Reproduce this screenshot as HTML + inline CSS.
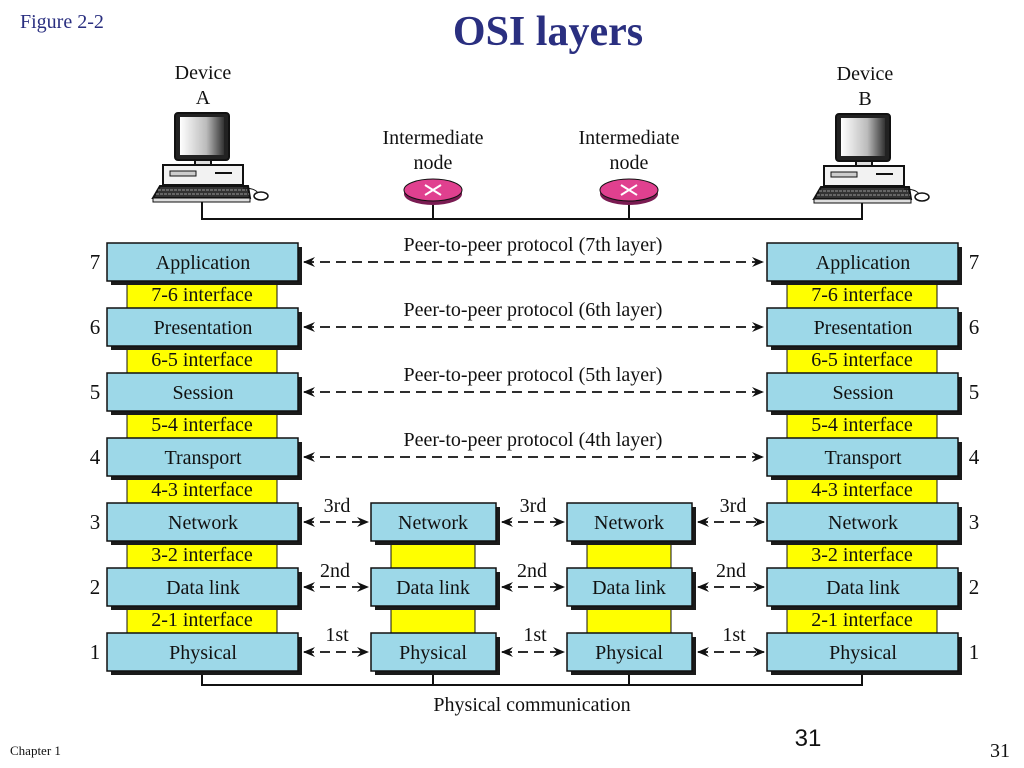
<!DOCTYPE html>
<html><head><meta charset="utf-8"><style>
html,body{margin:0;padding:0;background:#fff;}
svg{display:block;}
text{font-family:"Liberation Serif",serif;fill:#111;}
</style></head><body>
<svg width="1024" height="768" viewBox="0 0 1024 768" xmlns="http://www.w3.org/2000/svg">
<defs>
<marker id="ah" markerWidth="12" markerHeight="10" refX="11" refY="5" orient="auto-start-reverse" markerUnits="userSpaceOnUse">
<path d="M0,0 L12,5 L0,10 L4,5 Z" fill="#111"/>
</marker>
<linearGradient id="scr" x1="0" x2="1"><stop offset="0" stop-color="#fff"/><stop offset="0.6" stop-color="#bbb"/><stop offset="1" stop-color="#333"/></linearGradient>
</defs>

<text x="20" y="28" font-size="20" style="fill:#2a2f80">Figure  2-2</text>
<text x="548" y="45" font-size="42" font-weight="bold" text-anchor="middle" style="fill:#2a2f80">OSI layers</text>

<g font-size="20" text-anchor="middle">
<text x="203" y="79">Device</text><text x="203" y="104">A</text>
<text x="865" y="80">Device</text><text x="865" y="105">B</text>
<text x="433" y="144">Intermediate</text><text x="433" y="169">node</text>
<text x="629" y="144">Intermediate</text><text x="629" y="169">node</text>
</g>

<g id="compA" stroke="#111" stroke-width="2">
<rect x="175" y="113" width="54" height="47" rx="3" fill="#222"/>
<rect x="180" y="117" width="44" height="38" fill="url(#scr)" stroke="none"/>
<rect x="195" y="160" width="16" height="5" fill="#ddd"/>
<rect x="163" y="165" width="80" height="20" fill="#f2f2f2"/>
<rect x="170" y="171" width="26" height="5" fill="#ccc" stroke-width="1"/>
<line x1="215" y1="173" x2="232" y2="173"/>
<path d="M153,198 L160,186 L248,186 L250,198 Z" fill="#333"/>
<path d="M158,190 H247 M156,194 H249" stroke="#999" stroke-width="1" stroke-dasharray="3,1"/>
<rect x="153" y="198" width="97" height="4" fill="#ddd" stroke-width="1"/>
<path d="M243,188 Q255,188 258,193" fill="none" stroke-width="1"/>
<ellipse cx="261" cy="196" rx="7" ry="4" fill="#fff" stroke-width="1.5"/>
</g>
<use href="#compA" x="661" y="1"/>

<g>
<ellipse cx="433" cy="194" rx="29" ry="11" fill="#7a1b52"/>
<ellipse cx="433" cy="190" rx="29" ry="11" fill="#e0408f" stroke="#111" stroke-width="1"/>
<path d="M425,185 L441,195 M441,185 L425,195" stroke="#fff" stroke-width="2"/>
<ellipse cx="629" cy="194" rx="29" ry="11" fill="#7a1b52"/>
<ellipse cx="629" cy="190" rx="29" ry="11" fill="#e0408f" stroke="#111" stroke-width="1"/>
<path d="M621,185 L637,195 M637,185 L621,195" stroke="#fff" stroke-width="2"/>
</g>

<path d="M202,202 V219 H862 V203 M433,205 V219 M629,205 V219" fill="none" stroke="#111" stroke-width="2"/>

<g fill="#ffff00" stroke="#111" stroke-width="1">
<rect x="127" y="281" width="150" height="27"/><rect x="127" y="346" width="150" height="27"/>
<rect x="127" y="411" width="150" height="27"/><rect x="127" y="476" width="150" height="27"/>
<rect x="127" y="541" width="150" height="27"/><rect x="127" y="606" width="150" height="27"/>
<rect x="787" y="281" width="150" height="27"/><rect x="787" y="346" width="150" height="27"/>
<rect x="787" y="411" width="150" height="27"/><rect x="787" y="476" width="150" height="27"/>
<rect x="787" y="541" width="150" height="27"/><rect x="787" y="606" width="150" height="27"/>
<rect x="391" y="541" width="84" height="27"/><rect x="391" y="606" width="84" height="27"/>
<rect x="587" y="541" width="84" height="27"/><rect x="587" y="606" width="84" height="27"/>
</g>

<path d="M202,671 V685 H862 V671 M433,671 V685 M629,671 V685" fill="none" stroke="#111" stroke-width="2"/>

<g fill="#1a1a1a">
<rect x="111" y="247" width="191" height="38"/><rect x="111" y="312" width="191" height="38"/>
<rect x="111" y="377" width="191" height="38"/><rect x="111" y="442" width="191" height="38"/>
<rect x="111" y="507" width="191" height="38"/><rect x="111" y="572" width="191" height="38"/>
<rect x="111" y="637" width="191" height="38"/>
<rect x="771" y="247" width="191" height="38"/><rect x="771" y="312" width="191" height="38"/>
<rect x="771" y="377" width="191" height="38"/><rect x="771" y="442" width="191" height="38"/>
<rect x="771" y="507" width="191" height="38"/><rect x="771" y="572" width="191" height="38"/>
<rect x="771" y="637" width="191" height="38"/>
<rect x="375" y="507" width="125" height="38"/><rect x="375" y="572" width="125" height="38"/><rect x="375" y="637" width="125" height="38"/>
<rect x="571" y="507" width="125" height="38"/><rect x="571" y="572" width="125" height="38"/><rect x="571" y="637" width="125" height="38"/>
</g>
<g fill="#9dd8e8" stroke="#111" stroke-width="1.5">
<rect x="107" y="243" width="191" height="38"/><rect x="107" y="308" width="191" height="38"/>
<rect x="107" y="373" width="191" height="38"/><rect x="107" y="438" width="191" height="38"/>
<rect x="107" y="503" width="191" height="38"/><rect x="107" y="568" width="191" height="38"/>
<rect x="107" y="633" width="191" height="38"/>
<rect x="767" y="243" width="191" height="38"/><rect x="767" y="308" width="191" height="38"/>
<rect x="767" y="373" width="191" height="38"/><rect x="767" y="438" width="191" height="38"/>
<rect x="767" y="503" width="191" height="38"/><rect x="767" y="568" width="191" height="38"/>
<rect x="767" y="633" width="191" height="38"/>
<rect x="371" y="503" width="125" height="38"/><rect x="371" y="568" width="125" height="38"/><rect x="371" y="633" width="125" height="38"/>
<rect x="567" y="503" width="125" height="38"/><rect x="567" y="568" width="125" height="38"/><rect x="567" y="633" width="125" height="38"/>
</g>

<g font-size="20" text-anchor="middle">
<text x="203" y="269">Application</text><text x="203" y="334">Presentation</text>
<text x="203" y="399">Session</text><text x="203" y="464">Transport</text>
<text x="203" y="529">Network</text><text x="203" y="594">Data link</text><text x="203" y="659">Physical</text>
<text x="863" y="269">Application</text><text x="863" y="334">Presentation</text>
<text x="863" y="399">Session</text><text x="863" y="464">Transport</text>
<text x="863" y="529">Network</text><text x="863" y="594">Data link</text><text x="863" y="659">Physical</text>
<text x="433" y="529">Network</text><text x="433" y="594">Data link</text><text x="433" y="659">Physical</text>
<text x="629" y="529">Network</text><text x="629" y="594">Data link</text><text x="629" y="659">Physical</text>
<text x="202" y="301">7-6 interface</text><text x="202" y="366">6-5 interface</text>
<text x="202" y="431">5-4 interface</text><text x="202" y="496">4-3 interface</text>
<text x="202" y="561">3-2 interface</text><text x="202" y="626">2-1 interface</text>
<text x="862" y="301">7-6 interface</text><text x="862" y="366">6-5 interface</text>
<text x="862" y="431">5-4 interface</text><text x="862" y="496">4-3 interface</text>
<text x="862" y="561">3-2 interface</text><text x="862" y="626">2-1 interface</text>
</g>

<g font-size="21" text-anchor="middle">
<text x="95" y="269">7</text><text x="95" y="334">6</text><text x="95" y="399">5</text><text x="95" y="464">4</text>
<text x="95" y="529">3</text><text x="95" y="594">2</text><text x="95" y="659">1</text>
<text x="974" y="269">7</text><text x="974" y="334">6</text><text x="974" y="399">5</text><text x="974" y="464">4</text>
<text x="974" y="529">3</text><text x="974" y="594">2</text><text x="974" y="659">1</text>
</g>

<g stroke="#111" stroke-width="1.8" stroke-dasharray="10,6" marker-start="url(#ah)" marker-end="url(#ah)">
<line x1="304" y1="262" x2="763" y2="262"/><line x1="304" y1="327" x2="763" y2="327"/>
<line x1="304" y1="392" x2="763" y2="392"/><line x1="304" y1="457" x2="763" y2="457"/>
<line x1="304" y1="522" x2="368" y2="522"/><line x1="502" y1="522" x2="564" y2="522"/><line x1="698" y1="522" x2="764" y2="522"/>
<line x1="304" y1="587" x2="368" y2="587"/><line x1="502" y1="587" x2="564" y2="587"/><line x1="698" y1="587" x2="764" y2="587"/>
<line x1="304" y1="652" x2="368" y2="652"/><line x1="502" y1="652" x2="564" y2="652"/><line x1="698" y1="652" x2="764" y2="652"/>
</g>
<g font-size="20" text-anchor="middle">
<text x="533" y="251">Peer-to-peer protocol (7th layer)</text>
<text x="533" y="316">Peer-to-peer protocol (6th layer)</text>
<text x="533" y="381">Peer-to-peer protocol (5th layer)</text>
<text x="533" y="446">Peer-to-peer protocol (4th layer)</text>
<text x="337" y="512">3rd</text><text x="533" y="512">3rd</text><text x="733" y="512">3rd</text>
<text x="335" y="577">2nd</text><text x="532" y="577">2nd</text><text x="731" y="577">2nd</text>
<text x="337" y="641">1st</text><text x="535" y="641">1st</text><text x="734" y="641">1st</text>
<text x="532" y="711">Physical communication</text>
</g>

<text x="10" y="755" font-size="13">Chapter 1</text>
<text x="808" y="746" font-size="24" text-anchor="middle" style="font-family:'Liberation Sans',sans-serif">31</text>
<text x="1010" y="757" font-size="20" text-anchor="end">31</text>
</svg>
</body></html>
